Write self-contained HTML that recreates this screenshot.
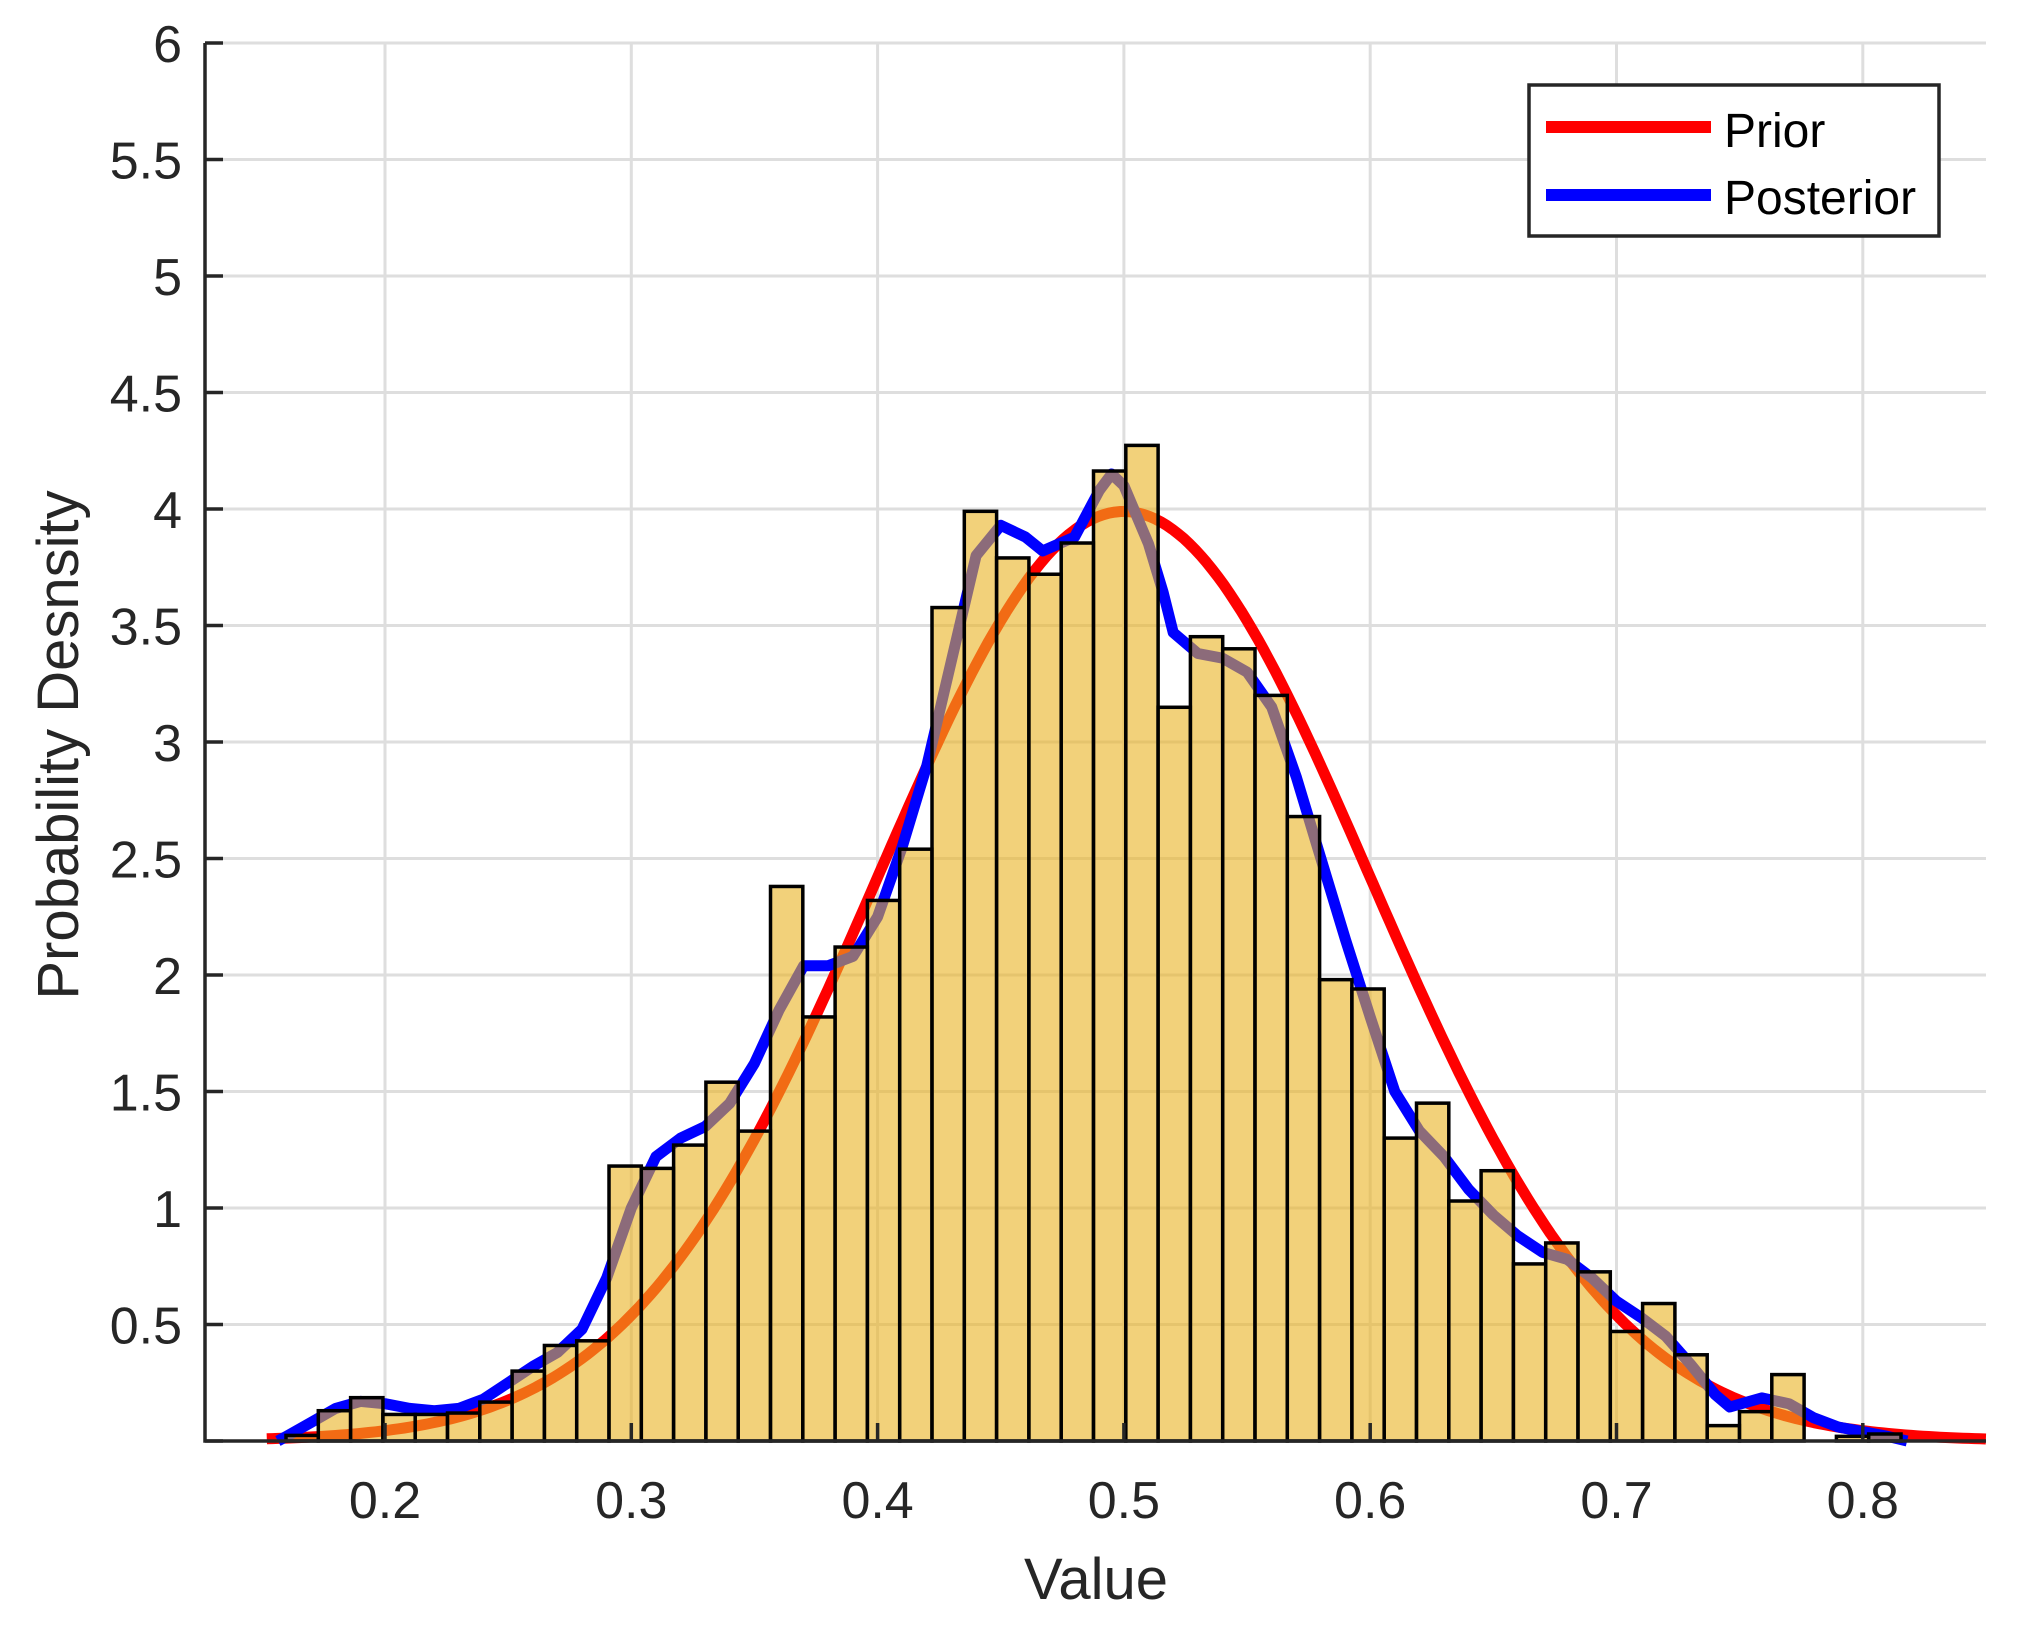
<!DOCTYPE html>
<html><head><meta charset="utf-8"><style>
html,body{margin:0;padding:0;background:#fff;}
svg{display:block;font-family:"Liberation Sans",Arial,sans-serif;}
</style></head><body>
<svg id="chart" width="2022" height="1627" viewBox="0 0 2022 1627" xmlns="http://www.w3.org/2000/svg">
<g id="grid"></g>
<g id="curves"></g>
<g id="bars"></g>
<g id="axes"></g>
<text x="1096" y="1599" font-size="58" text-anchor="middle" fill="#262626">Value</text>
<text transform="translate(78,745) rotate(-90)" font-size="58" text-anchor="middle" fill="#262626">Probability Desnsity</text>
<g>
<rect x="1529" y="85" width="410" height="151" fill="#fff" stroke="#262626" stroke-width="3.5"/>
<line x1="1546" y1="127" x2="1711" y2="127" stroke="#ff0000" stroke-width="12"/>
<text x="1724" y="147" font-size="48" fill="#000">Prior</text>
<line x1="1546" y1="195" x2="1711" y2="195" stroke="#0000ff" stroke-width="12"/>
<text x="1724" y="214" font-size="48" fill="#000">Posterior</text>
</g>
</svg>
<script>
const binStart = [0.15981];
const binWidth = [0.013114];
const binHeights = [0.024,0.13,0.186,0.114,0.114,0.12,0.167,0.30,0.41,0.43,
1.18,1.17,1.27,1.54,1.33,2.38,1.82,2.12,2.32,2.54,
3.577,3.99,3.79,3.72,3.854,4.163,4.273,3.149,3.452,3.40,
3.20,2.68,1.98,1.94,1.30,1.45,1.03,1.16,0.76,0.85,
0.726,0.47,0.59,0.37,0.066,0.126,0.285,0,0.02,0.03];
const priorMean = [0.5];
const priorSd = [0.1];
const priorRange = [0.152, 0.85];
const postX = [0.1565,0.16,0.17,0.18,0.19,0.20,0.21,0.22,0.23,0.24,0.25,0.26,0.27,0.28,0.29,0.30,0.31,0.32,0.33,0.34,0.35,0.36,0.37,0.38,0.39,0.40,0.41,0.42,0.43,0.44,0.45,0.46,0.467,0.48,0.49,0.495,0.50,0.51,0.516,0.52,0.53,0.54,0.55,0.56,0.57,0.58,0.59,0.60,0.61,0.62,0.63,0.64,0.65,0.66,0.67,0.68,0.69,0.70,0.71,0.72,0.73,0.74,0.746,0.759,0.77,0.78,0.79,0.80,0.81,0.818];
const postY = [0.0,0.02,0.08,0.14,0.17,0.16,0.14,0.13,0.14,0.18,0.25,0.32,0.38,0.48,0.70,1.00,1.22,1.30,1.35,1.45,1.62,1.85,2.04,2.04,2.08,2.25,2.55,2.90,3.35,3.80,3.93,3.88,3.82,3.88,4.08,4.15,4.10,3.85,3.64,3.47,3.38,3.36,3.30,3.15,2.85,2.50,2.15,1.82,1.50,1.33,1.22,1.08,0.97,0.88,0.81,0.78,0.70,0.60,0.53,0.45,0.33,0.20,0.146,0.185,0.16,0.10,0.06,0.04,0.02,0.0];
const xTicks = [0.2,0.3,0.4,0.5,0.6,0.7,0.8];
const xTickLabels = ["0.2","0.3","0.4","0.5","0.6","0.7","0.8"];
const yTicks = [0.5,1,1.5,2,2.5,3,3.5,4,4.5,5,5.5,6];
const yTickLabels = ["0.5","1","1.5","2","2.5","3","3.5","4","4.5","5","5.5","6"];

const NS="http://www.w3.org/2000/svg";
const L=205,R=1986,T=43,B=1441;
function X(v){return 385+(v-0.2)*2463;}
function Y(v){return B-v*233;}
function mk(tag,attrs,parent){const e=document.createElementNS(NS,tag);for(const k in attrs)e.setAttribute(k,attrs[k]);parent.appendChild(e);return e;}
const grid=document.getElementById('grid'),curves=document.getElementById('curves'),bars=document.getElementById('bars'),axes=document.getElementById('axes');
xTicks.forEach(t=>{const l=mk('line',{x1:X(t),x2:X(t),y1:T,y2:B,stroke:'#dedede','stroke-width':3},grid);

});
yTicks.forEach(t=>{const l=mk('line',{x1:L,x2:R,y1:Y(t),y2:Y(t),stroke:'#dedede','stroke-width':3},grid);

});
let pp=[];
for(let i=0;i<=300;i++){const v=priorRange[0]+(priorRange[1]-priorRange[0])*i/300;
const d=Math.exp(-0.5*Math.pow((v-priorMean[0])/priorSd[0],2))/(priorSd[0]*Math.sqrt(2*Math.PI));
pp.push(X(v).toFixed(1)+','+Y(d).toFixed(1));}
const pr=mk('polyline',{points:pp.join(' '),fill:'none',stroke:'#ff0000','stroke-width':11,'stroke-linejoin':'round'},curves);


const po=mk('polyline',{points:postX.map((x,i)=>X(x).toFixed(1)+','+Y(postY[i]).toFixed(1)).join(' '),fill:'none',stroke:'#0000ff','stroke-width':11,'stroke-linejoin':'round'},curves);


binHeights.forEach((h,i)=>{const x0=X(binStart[0]+i*binWidth[0]),x1=X(binStart[0]+(i+1)*binWidth[0]);
if(h<=0)return;
const r=mk('rect',{x:x0,y:Y(h),width:x1-x0,height:B-Y(h),fill:'rgba(233,178,33,0.6)',stroke:'#000','stroke-width':3.5,'stroke-linejoin':'miter'},bars);

});
const ax=mk('path',{d:`M${L},${T} L${L},${B} L${R},${B}`,fill:'none',stroke:'#262626','stroke-width':3.5},axes);


[0,...yTicks].forEach(t=>{const l=mk('line',{x1:L,x2:L+18,y1:Y(t),y2:Y(t),stroke:'#262626','stroke-width':3.5},axes);

});
yTicks.forEach((t,i)=>{const tx=mk('text',{x:182,y:Y(t)+19,'font-size':52,'text-anchor':'end',fill:'#262626'},axes);tx.textContent=yTickLabels[i];

});
xTicks.forEach((t,i)=>{const l=mk('line',{x1:X(t),x2:X(t),y1:B,y2:B-18,stroke:'#262626','stroke-width':3.5},axes);


const tx=mk('text',{x:X(t),y:1518,'font-size':52,'text-anchor':'middle',fill:'#262626'},axes);tx.textContent=xTickLabels[i];

});
</script>
</body></html>
